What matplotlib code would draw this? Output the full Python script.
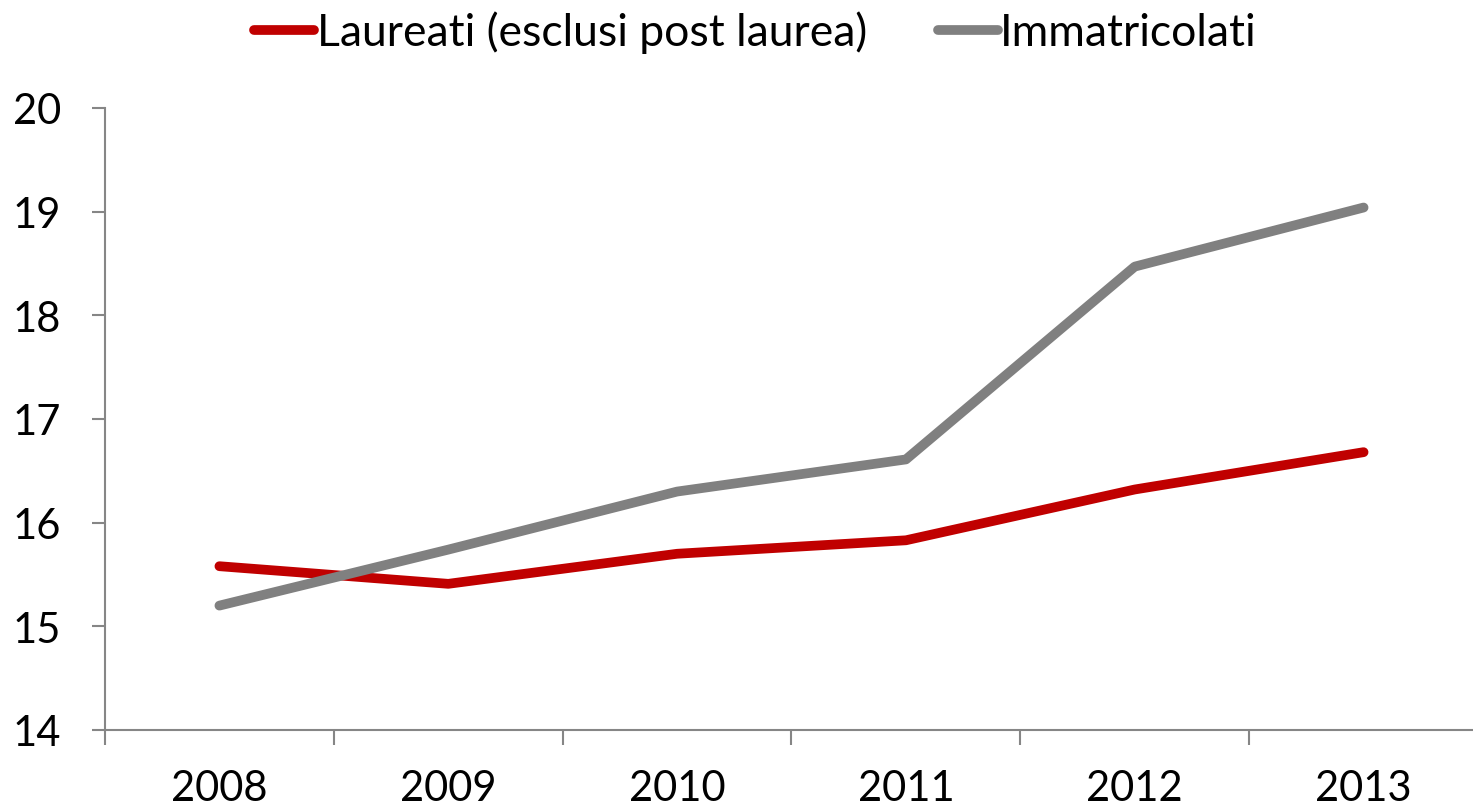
import matplotlib
matplotlib.use("Agg")
import matplotlib.pyplot as plt
import numpy as np
from matplotlib.ticker import FixedLocator, NullFormatter, FixedFormatter

years = ["2008", "2009", "2010", "2011", "2012", "2013"]
laureati = [15.58, 15.41, 15.70, 15.83, 16.32, 16.68]
immatricolati = [15.20, 15.74, 16.30, 16.61, 18.47, 19.04]
series_labels = ["Laureati (esclusi post laurea)", "Immatricolati"]
yticks = [14, 15, 16, 17, 18, 19, 20]

plt.rcParams['font.family'] = ['Lato', 'DejaVu Sans']

W, H = 1473, 812
fig = plt.figure(figsize=(W / 100, H / 100), dpi=100)
ax = fig.add_axes([105 / W, 81 / H, (1478 - 105) / W, 622 / H])

x = np.arange(len(years))
lw = 7
ax.plot(x, laureati, color="#C00000", lw=lw, solid_capstyle="round", solid_joinstyle="round", label=series_labels[0])
ax.plot(x, immatricolati, color="#808080", lw=lw, solid_capstyle="round", solid_joinstyle="round", label=series_labels[1])

ax.set_xlim(-0.5, len(years) - 0.5)
ax.set_ylim(14, 20)
ax.set_yticks(yticks)
ax.set_yticklabels([str(v) for v in yticks])

ax.xaxis.set_major_locator(FixedLocator(np.arange(-0.5, len(years), 1.0)))
ax.xaxis.set_major_formatter(NullFormatter())
ax.xaxis.set_minor_locator(FixedLocator(x))
ax.xaxis.set_minor_formatter(FixedFormatter(years))

spine_c = "#868686"
for s in ["top", "right"]:
    ax.spines[s].set_visible(False)
for s in ["left", "bottom"]:
    ax.spines[s].set_color(spine_c)
    ax.spines[s].set_linewidth(1.5)

fs = 30
ax.tick_params(axis="y", which="major", length=9.5, width=1.5, color=spine_c, labelsize=fs, pad=22)
ax.tick_params(axis="x", which="major", length=11, width=1.5, color=spine_c)
ax.tick_params(axis="x", which="minor", length=0, labelsize=fs, pad=28)

leg = fig.legend(loc="upper center", bbox_to_anchor=(0.513, 1.035), ncol=2, frameon=False,
                 fontsize=32, handlelength=1.35, handletextpad=0.05, columnspacing=1.6)
for line in leg.get_lines():
    line.set_linewidth(lw)
    line.set_solid_capstyle("round")

fig.savefig("out.png", dpi=100)
